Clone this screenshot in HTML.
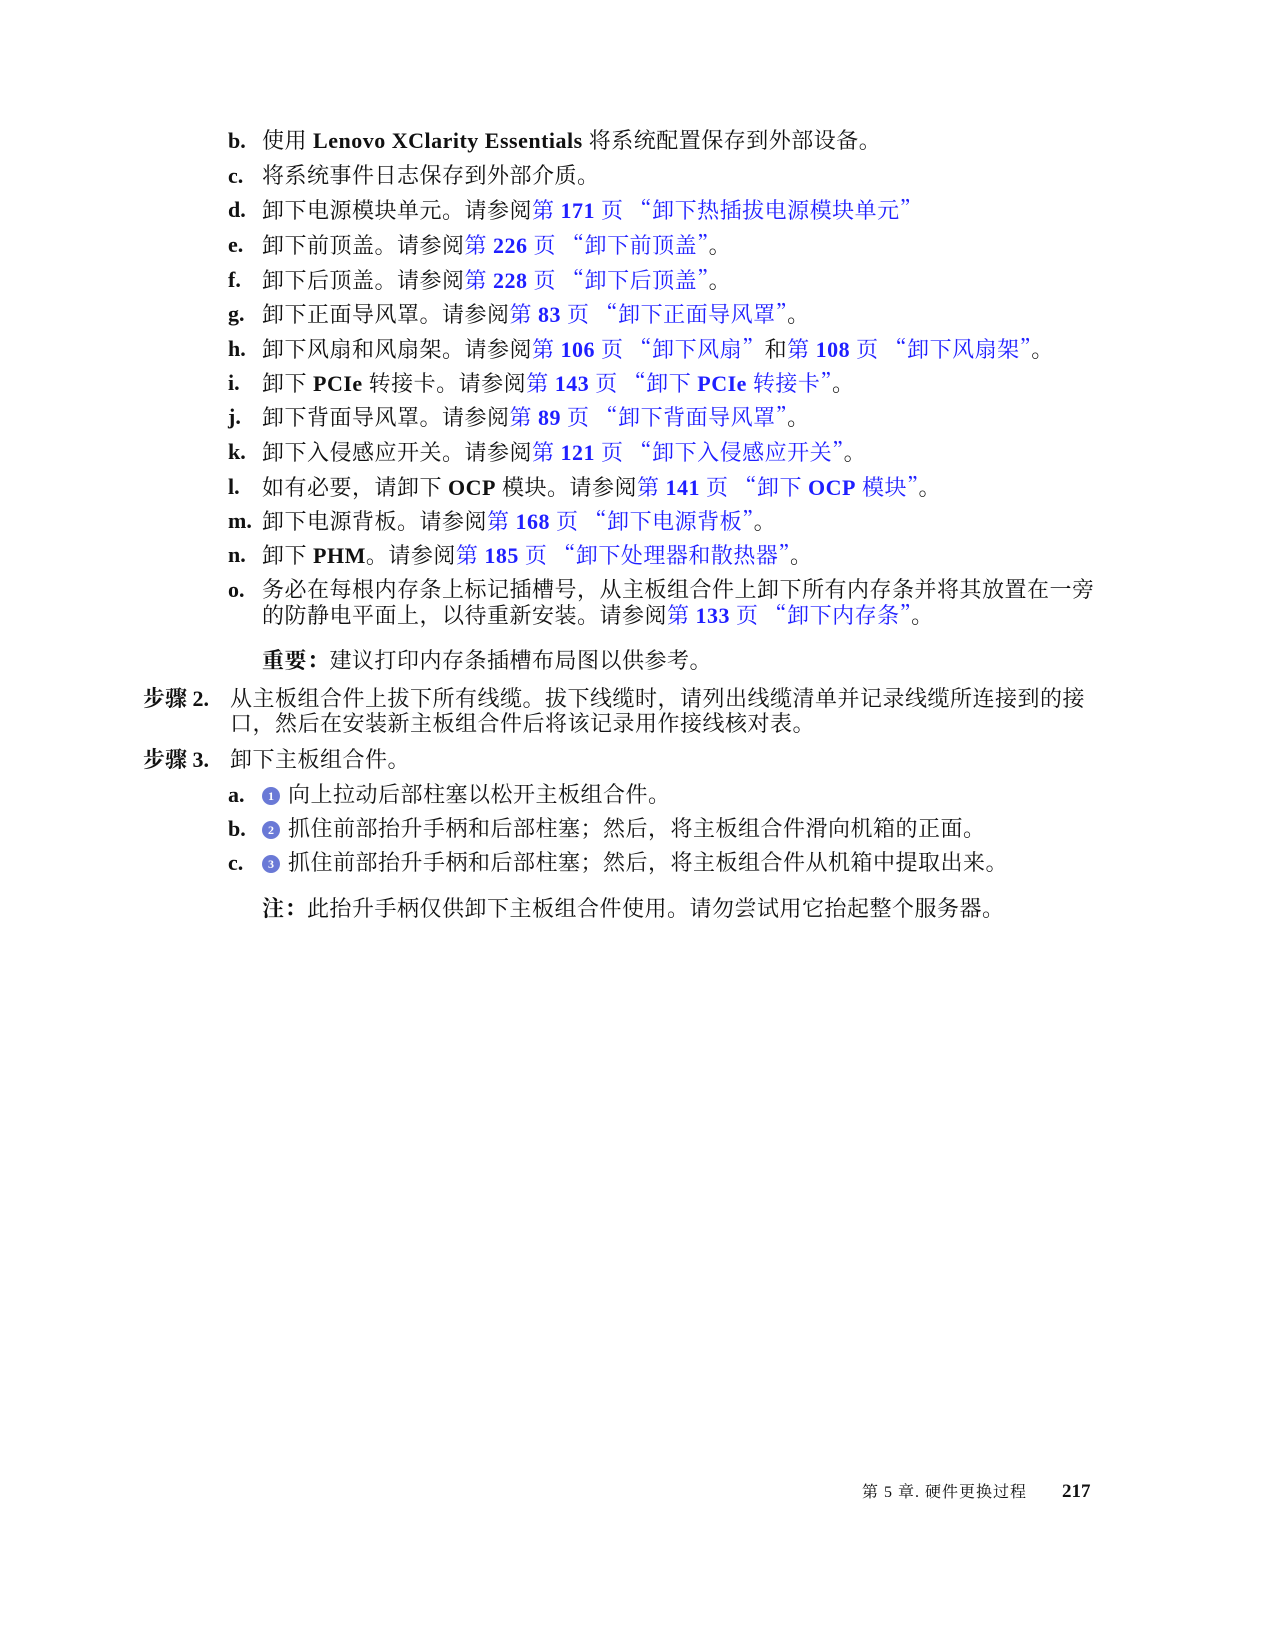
<!DOCTYPE html>
<html><head><meta charset="utf-8"><style>
body{margin:0;background:#fff;}
.p{position:relative;width:1275px;height:1650px;overflow:hidden;font-family:"Liberation Serif","Noto Serif CJK SC",serif;color:#111;}
.l{position:absolute;font-size:22px;line-height:26px;letter-spacing:0.5px;white-space:nowrap;}
.k{position:absolute;font-size:22px;line-height:26px;font-weight:bold;}
b{font-weight:bold;}
.a{color:#1f1fff;}
.q{font-family:"Noto Serif CJK SC",serif;}
.c{display:inline-block;width:18px;height:18px;border-radius:50%;background:#6a79d6;color:#fff;font-size:12px;line-height:18px;text-align:center;font-weight:bold;vertical-align:2px;letter-spacing:0;margin-right:8px;}
</style></head><body><div class="p">
<div class="k" style="left:228px;top:128px">b.</div><div class="l" style="left:262px;top:128px">使用 <b>Lenovo XClarity Essentials</b> 将系统配置保存到外部设备。</div>
<div class="k" style="left:228px;top:163px">c.</div><div class="l" style="left:262px;top:163px">将系统事件日志保存到外部介质。</div>
<div class="k" style="left:228px;top:197px">d.</div><div class="l" style="left:262px;top:197px">卸下电源模块单元。请参阅<span class="a">第 <b>171</b> 页 <span class="q">“</span>卸下热插拔电源模块单元<span class="q">”</span></span></div>
<div class="k" style="left:228px;top:232px">e.</div><div class="l" style="left:262px;top:232px">卸下前顶盖。请参阅<span class="a">第 <b>226</b> 页 <span class="q">“</span>卸下前顶盖<span class="q">”</span></span>。</div>
<div class="k" style="left:228px;top:267px">f.</div><div class="l" style="left:262px;top:267px">卸下后顶盖。请参阅<span class="a">第 <b>228</b> 页 <span class="q">“</span>卸下后顶盖<span class="q">”</span></span>。</div>
<div class="k" style="left:228px;top:301px">g.</div><div class="l" style="left:262px;top:301px">卸下正面导风罩。请参阅<span class="a">第 <b>83</b> 页 <span class="q">“</span>卸下正面导风罩<span class="q">”</span></span>。</div>
<div class="k" style="left:228px;top:336px">h.</div><div class="l" style="left:262px;top:336px">卸下风扇和风扇架。请参阅<span class="a">第 <b>106</b> 页 <span class="q">“</span>卸下风扇<span class="q">”</span></span>和<span class="a">第 <b>108</b> 页 <span class="q">“</span>卸下风扇架<span class="q">”</span></span>。</div>
<div class="k" style="left:228px;top:370px">i.</div><div class="l" style="left:262px;top:370px">卸下 <b>PCIe</b> 转接卡。请参阅<span class="a">第 <b>143</b> 页 <span class="q">“</span>卸下 <b>PCIe</b> 转接卡<span class="q">”</span></span>。</div>
<div class="k" style="left:228px;top:404px">j.</div><div class="l" style="left:262px;top:404px">卸下背面导风罩。请参阅<span class="a">第 <b>89</b> 页 <span class="q">“</span>卸下背面导风罩<span class="q">”</span></span>。</div>
<div class="k" style="left:228px;top:439px">k.</div><div class="l" style="left:262px;top:439px">卸下入侵感应开关。请参阅<span class="a">第 <b>121</b> 页 <span class="q">“</span>卸下入侵感应开关<span class="q">”</span></span>。</div>
<div class="k" style="left:228px;top:474px">l.</div><div class="l" style="left:262px;top:474px">如有必要，请卸下 <b>OCP</b> 模块。请参阅<span class="a">第 <b>141</b> 页 <span class="q">“</span>卸下 <b>OCP</b> 模块<span class="q">”</span></span>。</div>
<div class="k" style="left:228px;top:508px">m.</div><div class="l" style="left:262px;top:508px">卸下电源背板。请参阅<span class="a">第 <b>168</b> 页 <span class="q">“</span>卸下电源背板<span class="q">”</span></span>。</div>
<div class="k" style="left:228px;top:542px">n.</div><div class="l" style="left:262px;top:542px">卸下 <b>PHM</b>。请参阅<span class="a">第 <b>185</b> 页 <span class="q">“</span>卸下处理器和散热器<span class="q">”</span></span>。</div>
<div class="k" style="left:228px;top:577px">o.</div><div class="l" style="left:262px;top:577px">务必在每根内存条上标记插槽号，从主板组合件上卸下所有内存条并将其放置在一旁</div>
<div class="l" style="left:262px;top:602px">的防静电平面上，以待重新安装。请参阅<span class="a">第 <b>133</b> 页 <span class="q">“</span>卸下内存条<span class="q">”</span></span>。</div>
<div class="l" style="left:262px;top:648px"><b>重要：</b>建议打印内存条插槽布局图以供参考。</div>
<div class="k" style="left:143px;top:686px">步骤 2.</div><div class="l" style="left:230px;top:686px">从主板组合件上拔下所有线缆。拔下线缆时，请列出线缆清单并记录线缆所连接到的接</div>
<div class="l" style="left:230px;top:711px">口，然后在安装新主板组合件后将该记录用作接线核对表。</div>
<div class="k" style="left:143px;top:747px">步骤 3.</div><div class="l" style="left:230px;top:747px">卸下主板组合件。</div>
<div class="k" style="left:228px;top:782px">a.</div><div class="l" style="left:262px;top:782px"><span class="c">1</span>向上拉动后部柱塞以松开主板组合件。</div>
<div class="k" style="left:228px;top:816px">b.</div><div class="l" style="left:262px;top:816px"><span class="c">2</span>抓住前部抬升手柄和后部柱塞；然后，将主板组合件滑向机箱的正面。</div>
<div class="k" style="left:228px;top:850px">c.</div><div class="l" style="left:262px;top:850px"><span class="c">3</span>抓住前部抬升手柄和后部柱塞；然后，将主板组合件从机箱中提取出来。</div>
<div class="l" style="left:262px;top:896px"><b>注：</b>此抬升手柄仅供卸下主板组合件使用。请勿尝试用它抬起整个服务器。</div>
<div class="l" style="left:862px;top:1480px;font-size:16px;letter-spacing:1px">第 5 章. 硬件更换过程</div>
<div class="k" style="left:1062px;top:1479px;font-size:19px">217</div>
</div></body></html>
